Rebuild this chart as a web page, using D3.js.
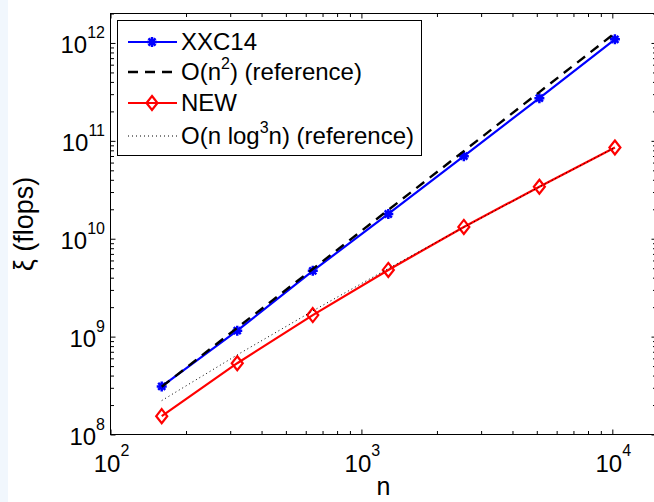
<!DOCTYPE html>
<html><head><meta charset="utf-8">
<script src="https://cdn.jsdelivr.net/npm/d3@7"></script>
<style>
body{margin:0;background:#fff}
svg{display:block}
text{font-family:"Liberation Sans",Arial,Helvetica,sans-serif;fill:#000}
</style>
</head><body>
<svg id="c" width="654" height="502"></svg>
<script>
// ---- data ----
const nValues  = [160, 320, 640, 1280, 2560, 5120, 10240];
const xxc14    = [3.1e8, 1.15e9, 4.7e9, 1.79e10, 6.98e10, 2.73e11, 1.09e12];
const refN2    = [3.07e8, 1.23e9, 4.91e9, 1.97e10, 7.86e10, 3.15e11, 1.26e12];
const newAlg   = [1.54e8, 5.35e8, 1.66e9, 4.8e9, 1.32e10, 3.4e10, 8.55e10];
const refNlog3 = [2.22e8, 6.51e8, 1.83e9, 4.97e9, 1.31e10, 3.38e10, 8.55e10];
const xTickExps = [2, 3, 4];
const yTickExps = [8, 9, 10, 11, 12];
const xDomain = [100, 15000];
const yDomain = [1e8, 2e12];
const legendLabels = [
  [["XXC14", false]],
  [["O(n", false], ["2", true], [") (reference)", false]],
  [["NEW", false]],
  [["O(n log", false], ["3", true], ["n) (reference)", false]]
];
const xLabel = "n";
const yLabel = "ξ (flops)";

// ---- layout ----
const svg = d3.select("#c");
svg.append("rect").attr("x",0).attr("y",0).attr("width",8).attr("height",502).attr("fill","#f1f7fd");

const L = 110.5, R = 656.5, T = 13.5, B = 434.5;
const x = d3.scaleLog().domain(xDomain).range([L, R]);
const y = d3.scaleLog().domain(yDomain).range([B, T]);

const xMaj = xTickExps.map(e => Math.pow(10, e));
const yMaj = yTickExps.map(e => Math.pow(10, e));
const xMin = [], yMin = [];
xTickExps.forEach(e => { for (let k = 2; k <= 9; k++) { const v = k*Math.pow(10,e); if (v <= xDomain[1]) xMin.push(v); } });
yTickExps.forEach(e => { for (let k = 2; k <= 9; k++) { const v = k*Math.pow(10,e); if (v <= yDomain[1]) yMin.push(v); } });

function addAxis(gen, tx, ty, vals, size) {
  const g = svg.append("g").attr("transform", `translate(${tx},${ty})`)
    .call(gen.tickValues(vals).tickSize(size).tickSizeOuter(0).tickFormat(""));
  g.select(".domain").remove();
  g.selectAll("line").attr("stroke", "#000").attr("stroke-width", 1);
}
addAxis(d3.axisBottom(x), 0, B, xMaj, -5);
addAxis(d3.axisBottom(x), 0, B, xMin, -3.5);
addAxis(d3.axisTop(x), 0, T, xMaj, -5);
addAxis(d3.axisTop(x), 0, T, xMin, -3.5);
addAxis(d3.axisLeft(y), L, 0, yMaj, -5);
addAxis(d3.axisLeft(y), L, 0, yMin, -3.5);
addAxis(d3.axisRight(y), R, 0, yMaj, -5);
addAxis(d3.axisRight(y), R, 0, yMin, -3.5);

svg.append("rect").attr("x", L).attr("y", T).attr("width", R - L).attr("height", B - T)
  .attr("fill", "none").attr("stroke", "#000").attr("stroke-width", 1);

// tick labels
xTickExps.forEach(e => {
  const t = svg.append("text").attr("x", x(Math.pow(10, e)) + 1).attr("y", 472)
    .attr("text-anchor", "middle").attr("font-size", 24);
  t.append("tspan").text("10");
  t.append("tspan").attr("dy", -16).attr("font-size", 16).text(e);
});
yTickExps.forEach(e => {
  const t = svg.append("text").attr("x", 105).attr("y", y(Math.pow(10, e)) + 10)
    .attr("text-anchor", "end").attr("font-size", 24);
  t.append("tspan").text("10");
  t.append("tspan").attr("dy", -15).attr("font-size", 16).text(e);
});

// axis labels
svg.append("text").attr("x", (L + R) / 2).attr("y", 495).attr("text-anchor", "middle")
  .attr("font-size", 25).text(xLabel);
svg.append("text").attr("transform", `translate(33,${(T + B) / 2}) rotate(-90)`)
  .attr("text-anchor", "middle").attr("font-size", 27).text(yLabel);

// ---- series ----
const plot = svg.append("g");
function series(vals, color, dash, width) {
  const line = d3.line().x((d, i) => x(nValues[i])).y(d => y(d));
  plot.append("path").attr("d", line(vals)).attr("fill", "none")
    .attr("stroke", color).attr("stroke-width", width)
    .attr("stroke-dasharray", dash || null);
}
const starPath = (r) => {
  let p = "";
  for (let a = 0; a < 4; a++) {
    const ang = a * Math.PI / 4;
    const dx = r * Math.cos(ang), dy = r * Math.sin(ang);
    p += `M${-dx},${-dy}L${dx},${dy}`;
  }
  return p;
};
const diamondPath = (w, h) => `M0,${-h}L${w},0L0,${h}L${-w},0Z`;
function markers(vals, pathStr, color, sw) {
  plot.selectAll(null).data(vals).enter().append("path")
    .attr("transform", (d, i) => `translate(${x(nValues[i])},${y(d)})`)
    .attr("d", pathStr).attr("fill", "none").attr("stroke", color).attr("stroke-width", sw);
}

series(xxc14, "#0000ff", null, 2.2);
markers(xxc14, starPath(5), "#0000ff", 2.5);
series(refN2, "#000", "10,7", 2.4);
series(newAlg, "#ff0000", null, 2.2);
markers(newAlg, diamondPath(5.5, 7), "#ff0000", 2.2);
series(refNlog3, "#000", "1,3", 1);

// ---- legend ----
const lg = svg.append("g");
lg.append("rect").attr("x", 117.5).attr("y", 20.5).attr("width", 304).attr("height", 135)
  .attr("fill", "#fff").attr("stroke", "#000").attr("stroke-width", 1);
const legRows = [42, 72, 103, 136];
const legStyles = [
  {c: "#0000ff", d: null, w: 2.2, m: starPath(5), mw: 2.5},
  {c: "#000", d: "10,7", w: 2.4, m: null},
  {c: "#ff0000", d: null, w: 2.2, m: diamondPath(5.5, 7), mw: 2.2},
  {c: "#000", d: "1,3", w: 1, m: null}
];
legendLabels.forEach((parts, i) => {
  const yy = legRows[i], s = legStyles[i];
  lg.append("line").attr("x1", 128).attr("x2", 177).attr("y1", yy).attr("y2", yy)
    .attr("stroke", s.c).attr("stroke-width", s.w).attr("stroke-dasharray", s.d);
  if (s.m) lg.append("path").attr("transform", `translate(152,${yy})`).attr("d", s.m)
    .attr("fill", "none").attr("stroke", s.c).attr("stroke-width", s.mw);
  const t = lg.append("text").attr("x", 181).attr("y", yy + 8).attr("font-size", 24);
  parts.forEach(([txt, sup], j) => {
    const ts = t.append("tspan").text(txt);
    if (sup) ts.attr("dy", -11).attr("font-size", 16);
    else if (j > 0 && parts[j - 1][1]) ts.attr("dy", 11);
  });
});
</script>
</body></html>
